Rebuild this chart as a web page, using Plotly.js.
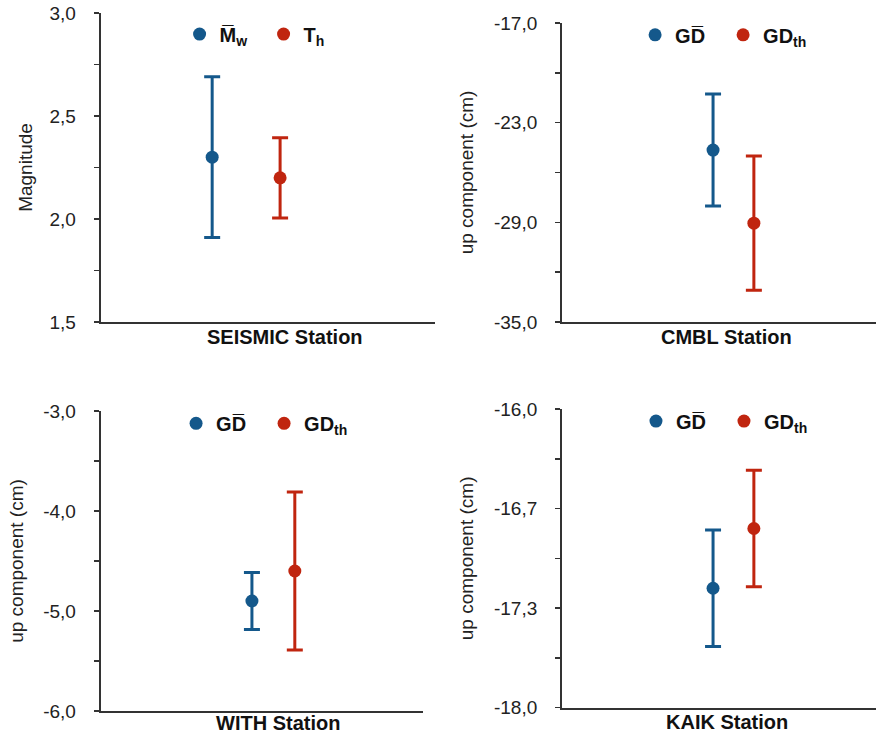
<!DOCTYPE html>
<html>
<head>
<meta charset="utf-8">
<script src="https://cdn.plot.ly/plotly-3.0.1.min.js"></script>
<style>html,body{margin:0;padding:0;background:#fff;}#chart{width:876px;height:740px;}</style>
</head>
<body>
<div id="chart"></div>
<script>
// ---- data ----
const stations = ["SEISMIC Station", "CMBL Station", "WITH Station", "KAIK Station"];
const yTitles = ["Magnitude", "up component (cm)", "up component (cm)", "up component (cm)"];
const blueNames = ["<b>M\u0305<sub>w</sub></b>", "<b>GD\u0305</b>", "<b>GD\u0305</b>", "<b>GD\u0305</b>"];
const redNames = ["<b>T<sub>h</sub></b>", "<b>GD<sub>th</sub></b>", "<b>GD<sub>th</sub></b>", "<b>GD<sub>th</sub></b>"];
const blueValues = [2.30, -24.65, -4.90, -17.20];
const blueErrors = [0.39, 3.37, 0.285, 0.39];
const redValues = [2.20, -29.05, -4.60, -16.80];
const redErrors = [0.195, 4.04, 0.79, 0.39];
const yRanges = [[1.5, 3.0], [-35, -17], [-6, -3], [-18, -16]];
const yTickVals = [[1.5, 2.0, 2.5, 3.0], [-35, -29, -23, -17], [-6, -5, -4, -3], [-18, -52/3, -50/3, -16]];
const yTickText = [["1,5", "2,0", "2,5", "3,0"], ["-35,0", "-29,0", "-23,0", "-17,0"], ["-6,0", "-5,0", "-4,0", "-3,0"], ["-18,0", "-17,3", "-16,7", "-16,0"]];
const yMinorDtick = [0.25, 3, 0.5, 1/3];

// ---- layout config ----
const BLUE = "#14588b", RED = "#c0250f";
const xDom = [[0.115, 0.497], [0.6416, 1.0], [0.115, 0.483], [0.6416, 1.0]];
const yDom = [[0.5649, 0.9824], [0.5649, 0.969], [0.0392, 0.4446], [0.0436, 0.4473]];
// fractional positions along each x axis of the two series
const xFrac = [[0.333, 0.536], [0.481, 0.611], [0.469, 0.602], [0.481, 0.611]];
const legendPos = [[0.205, 0.954], [0.725, 0.953], [0.201, 0.428], [0.726, 0.431]];
const legendEntryW = [39, 43, 43, 43];
const titleStandoff = [12, 15, 15, 15];
const stationX = [0.55, 0.524, 0.55, 0.525];
const stationShift = [-15, -15, -12, -14];

const traces = [];
const FONT = "Liberation Sans, Arial, sans-serif";
const layout = {
  width: 876, height: 740,
  margin: {l: 0, r: 0, t: 0, b: 0},
  paper_bgcolor: "#fff", plot_bgcolor: "#fff",
  font: {family: FONT, color: "#222", size: 19},
  annotations: []
};

for (let i = 0; i < 4; i++) {
  const n = i === 0 ? "" : String(i + 1);
  const xa = "x" + n, ya = "y" + n;
  const lg = i === 0 ? "legend" : "legend" + (i + 1);
  const [a, b] = xFrac[i];
  const step = b - a;
  const x0 = 1 - a / step;
  const commonErr = {type: "data", symmetric: true, thickness: 3, width: 8};
  traces.push({
    type: "scatter", mode: "markers", x: [1], y: [blueValues[i]],
    xaxis: xa, yaxis: ya, legend: lg, name: blueNames[i],
    marker: {color: BLUE, size: 13},
    error_y: Object.assign({array: [blueErrors[i]], color: BLUE}, commonErr),
    hoverinfo: "y"
  });
  traces.push({
    type: "scatter", mode: "markers", x: [2], y: [redValues[i]],
    xaxis: xa, yaxis: ya, legend: lg, name: redNames[i],
    marker: {color: RED, size: 13},
    error_y: Object.assign({array: [redErrors[i]], color: RED}, commonErr),
    hoverinfo: "y"
  });
  layout["xaxis" + n] = {
    domain: xDom[i], anchor: ya, range: [x0, x0 + 1 / step],
    showgrid: false, zeroline: false, showticklabels: false, ticks: "",
    showline: true, linecolor: "#333", linewidth: 2, fixedrange: true
  };
  layout["yaxis" + n] = {
    domain: yDom[i], anchor: xa, range: yRanges[i],
    tickmode: "array", tickvals: yTickVals[i], ticktext: yTickText[i],
    ticks: "outside", ticklen: 5, tickwidth: 1.5, tickcolor: "#333",
    ticklabelstandoff: 14,
    minor: {dtick: yMinorDtick[i], tick0: yRanges[i][0], ticks: "outside", ticklen: 5, tickwidth: 1.5, tickcolor: "#333", showgrid: false},
    showgrid: false, zeroline: false,
    showline: true, linecolor: "#333", linewidth: 2,
    tickfont: {family: FONT, size: 19, color: "#222"},
    title: {text: yTitles[i], font: {family: FONT, size: 19, color: "#222"}, standoff: titleStandoff[i]},
    fixedrange: true
  };
  layout[lg] = {
    orientation: "h", x: legendPos[i][0], y: legendPos[i][1],
    xanchor: "left", yanchor: "middle",
    font: {family: FONT, size: 20, color: "#111"}, bgcolor: "rgba(0,0,0,0)",
    itemwidth: 30, tracegroupgap: 0, entrywidth: legendEntryW[i]
  };
  layout.annotations.push({
    text: "<b>" + stations[i] + "</b>", xref: xa + " domain", yref: ya + " domain",
    x: stationX[i], y: 0, yshift: stationShift[i], xanchor: "center", yanchor: "middle",
    showarrow: false, font: {family: FONT, size: 20, color: "#111"}
  });
}

Plotly.newPlot("chart", traces, layout, {displayModeBar: false, staticPlot: true});
</script>
</body>
</html>
